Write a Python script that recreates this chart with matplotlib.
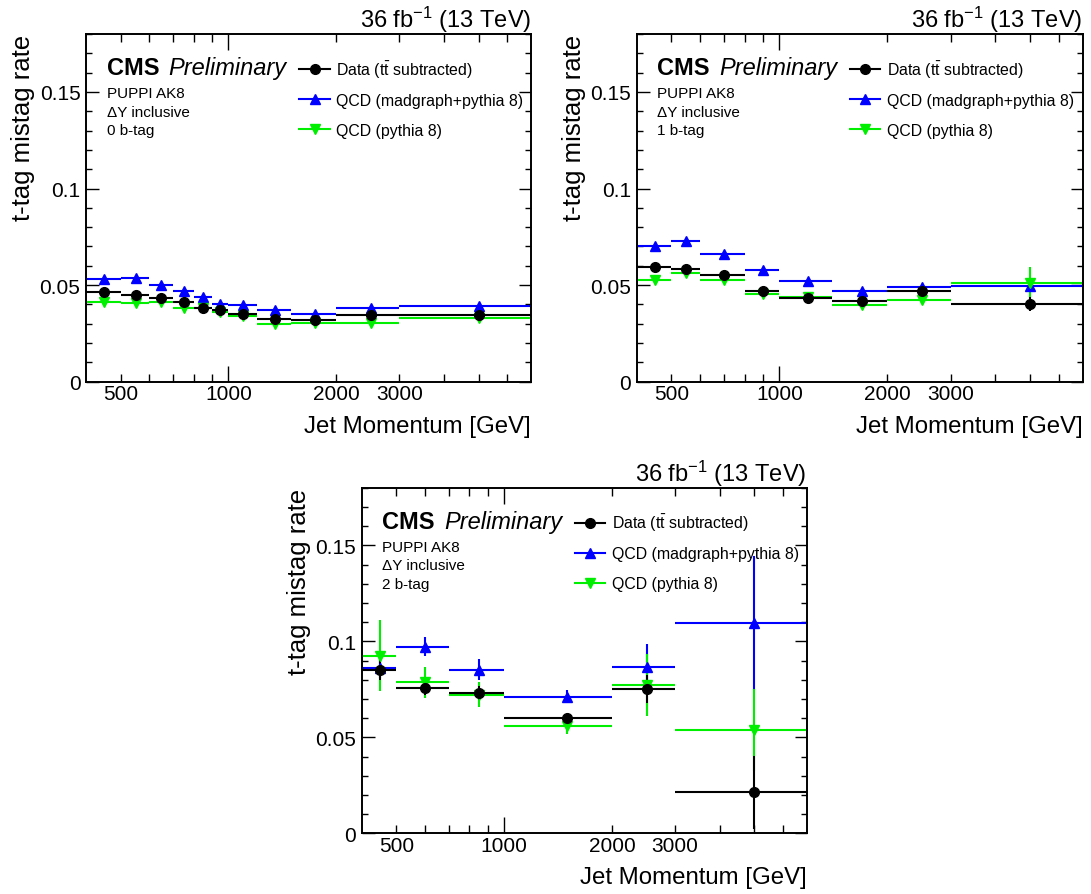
import numpy as np
import matplotlib
matplotlib.use('Agg')
import matplotlib.pyplot as plt
from matplotlib.ticker import FixedLocator, FuncFormatter, MultipleLocator

plt.rcParams['font.family'] = ['Liberation Sans', 'DejaVu Sans']
plt.rcParams['mathtext.fontset'] = 'custom'
plt.rcParams['mathtext.rm'] = 'Liberation Sans'
plt.rcParams['mathtext.it'] = 'Liberation Sans:italic'
plt.rcParams['mathtext.bf'] = 'Liberation Sans:bold'

# ---------------- data ----------------
# 0 b-tag
edges0 = [400, 500, 600, 700, 800, 900, 1000, 1200, 1500, 2000, 3000, 7000]
data0 = [0.0464, 0.0450, 0.0433, 0.0412, 0.0384, 0.0369, 0.0350, 0.0327, 0.0319, 0.0346, 0.0346]
data0_err = [0.0006, 0.0006, 0.0006, 0.0006, 0.0006, 0.0006, 0.0007, 0.0007, 0.0008, 0.0010, 0.0014]
mg0 = [0.0531, 0.0536, 0.0501, 0.0470, 0.0436, 0.0402, 0.0396, 0.0371, 0.0352, 0.0383, 0.0391]
mg0_err = [0.0004, 0.0004, 0.0004, 0.0004, 0.0004, 0.0004, 0.0004, 0.0005, 0.0005, 0.0006, 0.0008]
py0 = [0.0414, 0.0408, 0.0414, 0.0384, 0.0379, 0.0360, 0.0338, 0.0297, 0.0302, 0.0305, 0.0331]
py0_err = [0.0006, 0.0006, 0.0006, 0.0006, 0.0006, 0.0006, 0.0006, 0.0007, 0.0007, 0.0008, 0.0010]

# 1 b-tag
edges1 = [400, 500, 600, 800, 1000, 1400, 2000, 3000, 7000]
data1 = [0.0596, 0.0584, 0.0551, 0.0472, 0.0431, 0.0417, 0.0469, 0.0403]
data1_err = [0.0008, 0.0008, 0.0008, 0.0009, 0.0010, 0.0012, 0.0020, 0.0038]
mg1 = [0.0700, 0.0727, 0.0660, 0.0579, 0.0520, 0.0469, 0.0491, 0.0498]
mg1_err = [0.0006, 0.0006, 0.0006, 0.0007, 0.0008, 0.0009, 0.0012, 0.0030]
py1 = [0.0526, 0.0563, 0.0526, 0.0455, 0.0436, 0.0398, 0.0422, 0.0512]
py1_err = [0.0010, 0.0010, 0.0009, 0.0009, 0.0010, 0.0012, 0.0020, 0.0084]

# 2 b-tag
edges2 = [400, 500, 700, 1000, 2000, 3000, 7000]
data2 = [0.0852, 0.0757, 0.0731, 0.0601, 0.0753, 0.0214]
data2_err = [0.0056, 0.0035, 0.0035, 0.0022, 0.0072, 0.0190]
mg2 = [0.0859, 0.0971, 0.0851, 0.0712, 0.0868, 0.1095]
mg2_err = [0.0050, 0.0050, 0.0055, 0.0035, 0.0120, 0.0350]
py2 = [0.0925, 0.0786, 0.0722, 0.0560, 0.0773, 0.0538]
py2_err = [0.0185, 0.0080, 0.0066, 0.0045, 0.0160, 0.0214]

btag_labels = ['0 b-tag', '1 b-tag', '2 b-tag']
legend_labels = [r'Data (t$\bar{\mathrm{t}}$ subtracted)',
                 'QCD (madgraph+pythia 8)',
                 'QCD (pythia 8)']
lumi_text = r'36 fb$^{-1}$ (13 TeV)'
xlabel = 'Jet Momentum [GeV]'
ylabel = 't-tag mistag rate'

BLACK = '#000000'
BLUE = '#0000ff'
GREEN = '#00ee00'

# ---------------- figure ----------------
W, H = 1091, 895
fig = plt.figure(figsize=(W / 100, H / 100), dpi=100)

# pixel boxes (left, top, right, bottom)
boxes = [(86, 35, 531, 382.7), (636.7, 35, 1082.7, 382.7), (361.7, 488.7, 806.7, 834.3)]

panels = [
    (edges0, data0, data0_err, mg0, mg0_err, py0, py0_err),
    (edges1, data1, data1_err, mg1, mg1_err, py1, py1_err),
    (edges2, data2, data2_err, mg2, mg2_err, py2, py2_err),
]


def draw_series(ax, edges, vals, errs, color, marker, ms):
    e = np.asarray(edges, float)
    lo, hi = e[:-1], e[1:]
    ctr = 0.5 * (lo + hi)
    ax.errorbar(ctr, vals, yerr=errs, xerr=[ctr - lo, hi - ctr], fmt=marker,
                color=color, mfc=color, mec=color, ms=ms, elinewidth=1.5,
                capsize=0, linestyle='none')


for i, (box, pdat) in enumerate(zip(boxes, panels)):
    l, t, r, b = box
    wpx, hpx = r - l, b - t
    ax = fig.add_axes([l / W, (H - b) / H, wpx / W, hpx / H])
    edges, d, de, m, me, p, pe = pdat

    draw_series(ax, edges, m, me, BLUE, '^', 7)
    draw_series(ax, edges, p, pe, GREEN, 'v', 7)
    draw_series(ax, edges, d, de, BLACK, 'o', 7)

    ax.set_xscale('log')
    ax.set_xlim(400, 7000)
    ax.set_ylim(0, 0.18)
    ax.xaxis.set_major_locator(FixedLocator([1000]))
    ax.xaxis.set_minor_locator(FixedLocator([500, 600, 700, 800, 900, 2000, 3000, 4000, 5000, 6000]))
    ax.xaxis.set_major_formatter(FuncFormatter(lambda v, pos: '%d' % round(v)))
    ax.xaxis.set_minor_formatter(FuncFormatter(
        lambda v, pos: '%d' % round(v) if round(v) in (500, 2000, 3000) else ''))
    ax.yaxis.set_major_locator(MultipleLocator(0.05))
    ax.yaxis.set_minor_locator(MultipleLocator(0.01))
    ax.yaxis.set_major_formatter(FuncFormatter(lambda v, pos: '%g' % round(v, 4)))

    ax.tick_params(which='both', direction='in', top=True, right=True, width=1.0,
                   labelsize=15)
    ax.tick_params(axis='x', which='major', length=11.5, pad=2)
    ax.tick_params(axis='x', which='minor', length=5.8, pad=2)
    ax.tick_params(axis='y', which='major', length=9, pad=4)
    ax.tick_params(axis='y', which='minor', length=4.5)
    for s in ax.spines.values():
        s.set_linewidth(1.4)

    def fx(px):
        return px / wpx

    def fy(px):
        return 1 - px / hpx

    # lumi text
    ax.text(1, 1 + 7 / hpx, lumi_text, transform=ax.transAxes, ha='right',
            va='baseline', fontsize=17)
    # axis labels
    ax.text(1, -50 / hpx, xlabel, transform=ax.transAxes, ha='right',
            va='baseline', fontsize=17.3)
    ax.text(-51 / wpx, 1, ylabel, transform=ax.transAxes, rotation=90,
            rotation_mode='anchor', ha='right', va='bottom', fontsize=18.5)

    # CMS Preliminary
    ax.text(fx(20.7), fy(40), 'CMS', transform=ax.transAxes, fontsize=17,
            fontweight='bold', va='baseline', ha='left')
    ax.text(fx(82.6), fy(40), 'Preliminary', transform=ax.transAxes, fontsize=17,
            fontstyle='italic', va='baseline', ha='left')
    for txt, yb in zip(['PUPPI AK8', '\u0394Y inclusive', btag_labels[i]], [63, 81.5, 100]):
        ax.text(fx(20.7), fy(yb), txt, transform=ax.transAxes, fontsize=11,
                va='baseline', ha='left')

    # legend
    leg = [(BLACK, 'o', 7), (BLUE, '^', 7), (GREEN, 'v', 7)]
    for (c, mk, ms), lab, yb in zip(leg, legend_labels, [40.5, 70.5, 100.5]):
        yc = fy(yb - 5.4)
        ax.plot([fx(213), fx(243.5)], [yc, yc], color=c, lw=1.5,
                transform=ax.transAxes, clip_on=False)
        ax.plot([fx(228.5)], [yc], marker=mk, color=c, ms=ms, linestyle='none',
                transform=ax.transAxes, clip_on=False)
        ax.text(fx(250.5), fy(yb), lab, transform=ax.transAxes, fontsize=11.4,
                va='baseline', ha='left')

fig.savefig('out.png', dpi=100)
